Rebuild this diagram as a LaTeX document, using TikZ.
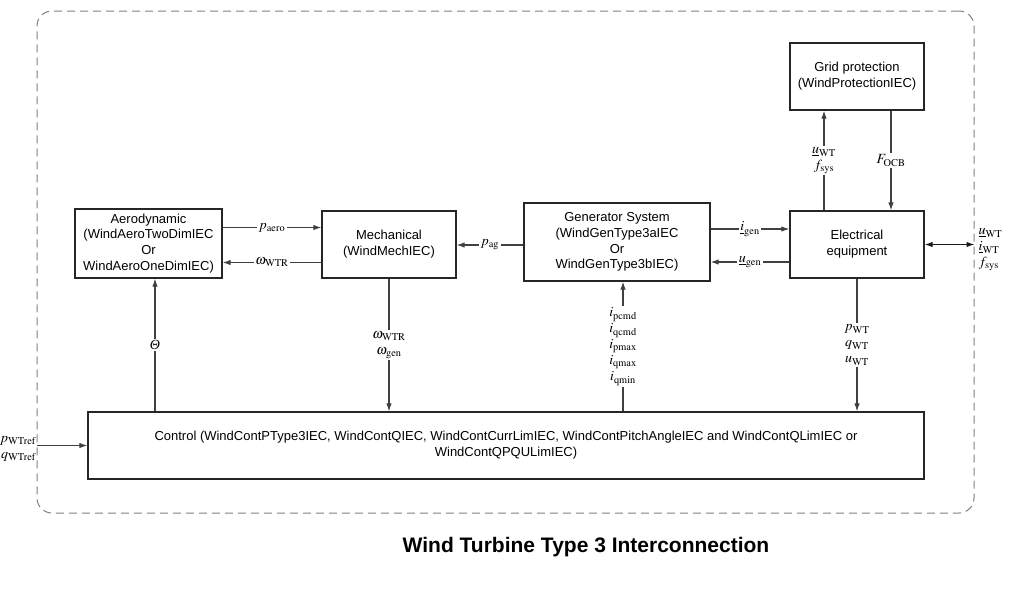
\documentclass[tikz,border=0pt]{standalone}
\usepackage{mathptmx}
\usepackage[no-math]{fontspec}
\setmainfont{Liberation Sans}
\newfontfamily\lserif{Liberation Serif}
\usetikzlibrary{arrows.meta,positioning}
\tikzset{
  blockbox/.style={draw=black!85,line width=1.3pt,fill=white,align=center,inner sep=2pt},
  sigarr/.style={-{Latex[length=8pt,width=5.5pt]},line width=1.1pt,draw=black!75},
  sigboth/.style={{Latex[length=8pt,width=5.5pt]}-{Latex[length=8pt,width=5.5pt]},line width=1.1pt,draw=black!90},
  siglab/.style={fill=white,inner sep=1.5pt,align=center,font=\fontsize{14}{16}\selectfont},
  wtframe/.style={draw=black!50,dash pattern=on 8pt off 5pt,rounded corners=15pt,line width=1pt},
  titlefont/.style={font=\fontsize{21}{24}\selectfont\bfseries}
}

\begin{document}
\begin{tikzpicture}[x=1pt,y=-1pt,font=\fontsize{13}{15.8}\selectfont]
  \useasboundingbox (0,0) rectangle (1015,614);
  % dashed turbine boundary
  \node[wtframe,minimum width=937pt,minimum height=502pt] (wt) at (505.5,262) {};

  % blocks
  \node[blockbox,minimum width=147pt,minimum height=69pt] (aero) at (148.5,243.5)
    {Aerodynamic\\(WindAeroTwoDimIEC\\Or\\WindAeroOneDimIEC)};
  \node[blockbox,minimum width=134pt,minimum height=67pt] (mech) at (389,244.5)
    {Mechanical\\(WindMechIEC)};
  \node[blockbox,minimum width=186pt,minimum height=78pt] (gen) at (617,242)
    {Generator System\\(WindGenType3aIEC\\Or\\WindGenType3bIEC)};
  \node[blockbox,minimum width=134pt,minimum height=67pt] (elec) at (857,244.5)
    {Electrical\\equipment};
  \node[blockbox,minimum width=134pt,minimum height=67pt] (grid) at (857,76.5)
    {Grid protection\\(WindProtectionIEC)};
  \node[blockbox,minimum width=836pt,minimum height=67pt] (ctrl) at (506,445.5)
    {Control (WindContPType3IEC, WindContQIEC, WindContCurrLimIEC, WindContPitchAngleIEC and WindContQLimIEC or\\WindContQPQULimIEC)};

  % horizontal signals
  \draw[sigarr] ([yshift=16pt]aero.east) -- node[siglab]{$p_{\mathrm{aero}}$} ([yshift=16pt]aero.east -| mech.west);
  \draw[sigarr] ([yshift=-18pt]mech.west) -- node[siglab]{$\omega_{\mathrm{WTR}}$} ([yshift=-18pt]mech.west -| aero.east);
  \draw[sigarr] ([yshift=-3pt]gen.west) -- node[siglab]{$p_{\mathrm{ag}}$} ([yshift=-3pt]gen.west -| mech.east);
  \draw[sigarr] ([yshift=13pt]gen.east) -- node[siglab]{$\underline{i}_{\mathrm{gen}}$} ([yshift=13pt]gen.east -| elec.west);
  \draw[sigarr] ([yshift=-17.5pt]elec.west) -- node[siglab]{$\underline{u}_{\mathrm{gen}}$} ([yshift=-17.5pt]elec.west -| gen.east);

  % protection loop
  \draw[sigarr] ([xshift=-33pt]elec.north) -- node[siglab]{$\underline{u}_{\mathrm{WT}}$\\$f_{\mathrm{sys}}$} ([xshift=-33pt]elec.north |- grid.south);
  \draw[sigarr] ([xshift=34pt]grid.south) -- node[siglab]{$F_{\mathrm{OCB}}$} ([xshift=34pt]grid.south |- elec.north);

  % grid terminal
  \draw[sigboth] (elec.east) -- (elec.east -| wt.east) coordinate (gridin);
  \node[anchor=west,align=left,inner sep=0pt,font=\fontsize{14}{16}\selectfont] (gridlab) at ([xshift=4pt,yshift=-5pt]gridin)
    {$\underline{u}_{\mathrm{WT}}$\\$\underline{i}_{\mathrm{WT}}$\\$f_{\mathrm{sys}}$};

  % control links
  \draw[sigarr] ([xshift=6.5pt]aero.south |- ctrl.north) -- node[siglab]{\lserif\itshape Θ} ([xshift=6.5pt]aero.south);
  \draw[sigarr] (mech.south) -- node[siglab]{$\omega_{\mathrm{WTR}}$\\$\omega_{\mathrm{gen}}$} (mech.south |- ctrl.north);
  \draw[sigarr] ([xshift=6pt]gen.south |- ctrl.north) -- node[siglab]
    {$i_{\mathrm{pcmd}}$\\$i_{\mathrm{qcmd}}$\\$i_{\mathrm{pmax}}$\\$i_{\mathrm{qmax}}$\\$i_{\mathrm{qmin}}$} ([xshift=6pt]gen.south);
  \draw[sigarr] (elec.south) -- node[siglab]{$p_{\mathrm{WT}}$\\$q_{\mathrm{WT}}$\\$u_{\mathrm{WT}}$} (elec.south |- ctrl.north);

  % references
  \draw[sigarr] (ctrl.west -| wt.west) coordinate (refin) -- (ctrl.west);
  \node[anchor=east,align=right,inner sep=0.5pt,font=\fontsize{14}{16}\selectfont] (reflab) at ([yshift=-3pt]refin)
    {$p_{\mathrm{WTref}}$\\$q_{\mathrm{WTref}}$};

  \node[titlefont] (title) at (586,547) {Wind Turbine Type 3 Interconnection};
\end{tikzpicture}
\end{document}
